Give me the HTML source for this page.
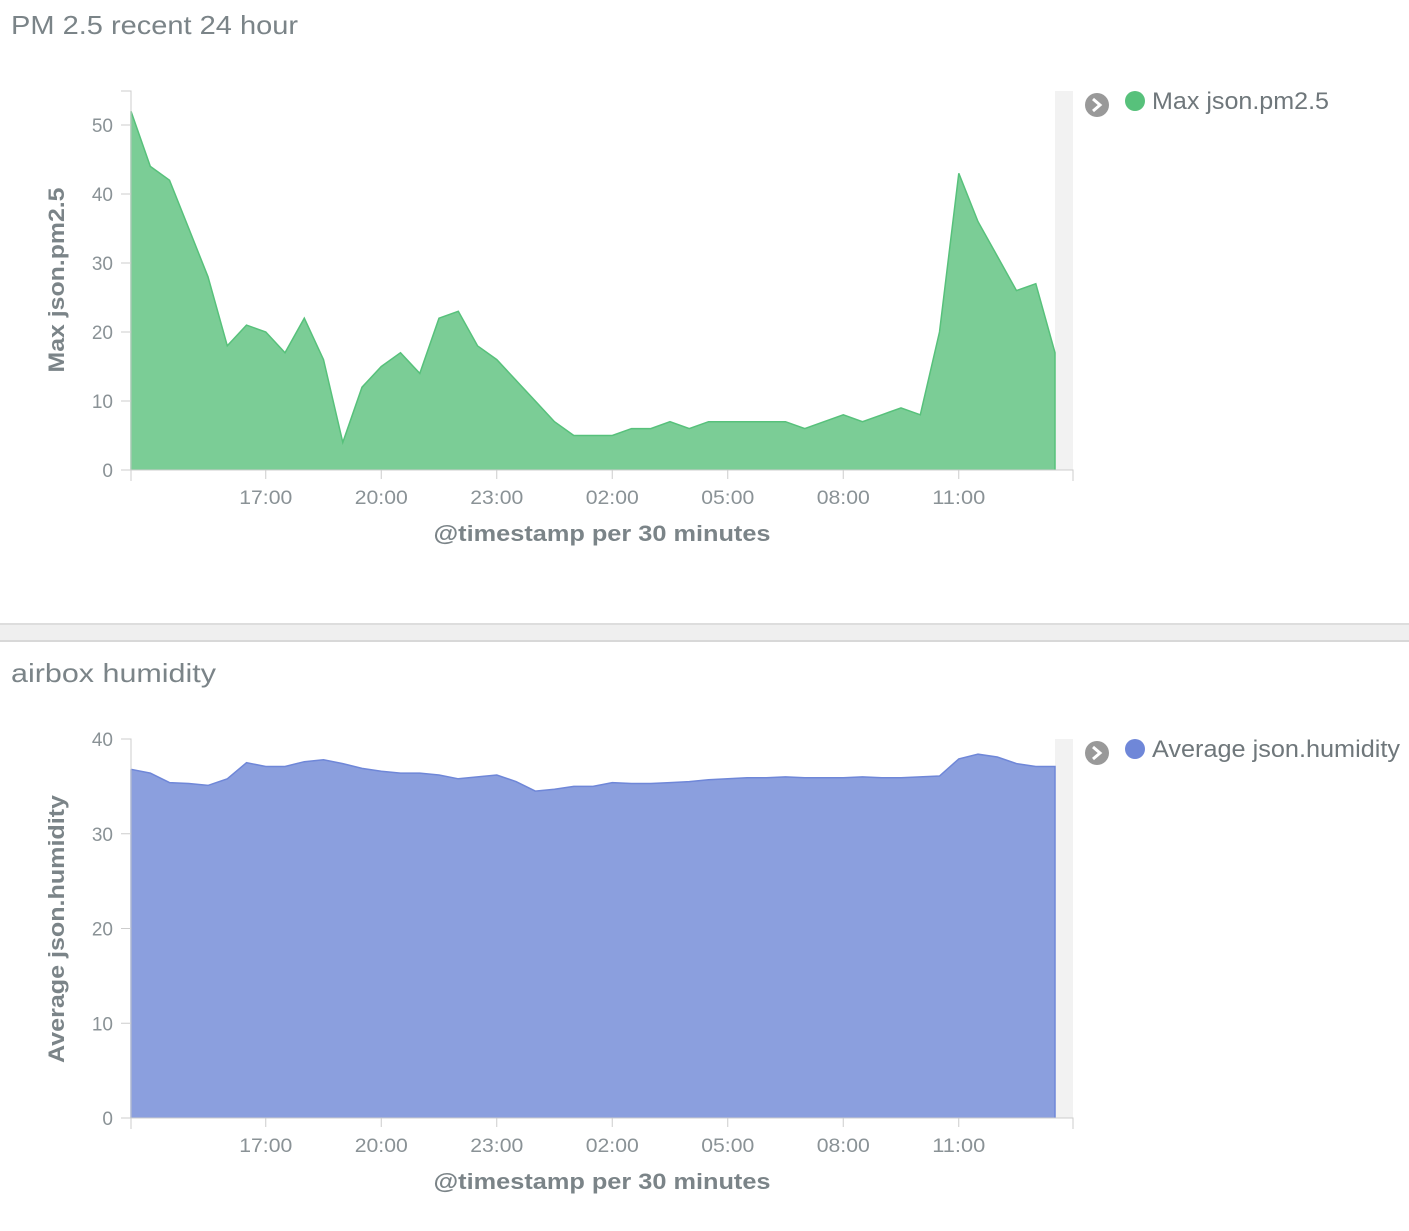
<!DOCTYPE html>
<html><head><meta charset="utf-8"><style>
body{margin:0;width:1409px;height:1231px;background:#fff;overflow:hidden;font-family:"Liberation Sans",sans-serif}
svg{position:absolute;left:0;top:0}
</style></head><body>
<svg width="1409" height="1231" id="svg">
<text x="11" y="34" font-size="26" fill="#7b8488" textLength="287" lengthAdjust="spacingAndGlyphs">PM 2.5 recent 24 hour</text>
<rect x="0" y="623" width="1409" height="19" fill="#efefef"/>
<line x1="0" y1="624" x2="1409" y2="624" stroke="#ddd" stroke-width="2"/>
<line x1="0" y1="641" x2="1409" y2="641" stroke="#d8d8d8" stroke-width="2"/>
<text x="11" y="682" font-size="26" fill="#7b8488" textLength="205" lengthAdjust="spacingAndGlyphs">airbox humidity</text>
<g id="c1"></g>
<g id="c2"></g>
</svg>
<script>
const timeTicks=["17:00","20:00","23:00","02:00","05:00","08:00","11:00"];
const tickIndex=[7,13,19,25,31,37,43];
const pmValues=[52,44,42,35,28,18,21,20,17,22,16,4,12,15,17,14,22,23,18,16,13,10,7,5,5,5,6,6,7,6,7,7,7,7,7,6,7,8,7,8,9,8,20,43,36,31,26,27,17];
const pmTicks=[0,10,20,30,40,50];
const humValues=[36.8,36.4,35.4,35.3,35.1,35.8,37.5,37.1,37.1,37.6,37.8,37.4,36.9,36.6,36.4,36.4,36.2,35.8,36.0,36.2,35.5,34.5,34.7,35.0,35.0,35.4,35.3,35.3,35.4,35.5,35.7,35.8,35.9,35.9,36.0,35.9,35.9,35.9,36.0,35.9,35.9,36.0,36.1,37.9,38.4,38.1,37.4,37.1,37.1];
const humTicks=[0,10,20,30,40];
const NS="http://www.w3.org/2000/svg";
function mk(p,t,a){const e=document.createElementNS(NS,t);for(const k in a)e.setAttribute(k,a[k]);p.appendChild(e);return e;}
function chart(g,vals,yTicks,y0,yTop,vmax,axisTop,fill,stroke,ytitle,ytLen,legend,legLen,ty){
 const x0=131,x1=1055;
 const X=i=>x0+i*(x1-x0)/(vals.length-1);
 const Y=v=>y0-(v/vmax)*(y0-yTop);
 let bg=mk(g,'rect',{x:1055,y:axisTop,width:18,height:y0-axisTop,fill:'#f2f2f2'});
 
 
 let d='M'+x0+','+y0;vals.forEach((v,i)=>d+=' L'+X(i).toFixed(1)+','+Y(v).toFixed(1));d+=' L'+x1+','+y0+' Z';
 let a=mk(g,'path',{d:d,fill:fill,stroke:'none'});
 
 
 let l='';vals.forEach((v,i)=>l+=(i?' L':'M')+X(i).toFixed(1)+','+Y(v).toFixed(1));
 let ln=mk(g,'path',{d:l+' L'+x1+','+y0+' M'+x0+','+y0+' L'+x0+','+Y(vals[0]),fill:'none',stroke:stroke,'stroke-width':1.5});
 
 
 mk(g,'path',{d:`M${x0-10},${axisTop} H${x0} V${y0} H1073 V${y0+11} M${x0},${y0} V${y0+11}`,fill:'none',stroke:'#ccc','stroke-width':1});
 yTicks.forEach(v=>{mk(g,'line',{x1:x0-10,x2:x0,y1:Y(v),y2:Y(v),stroke:'#ccc'});
  let t=mk(g,'text',{x:x0-18,y:Y(v)+7,'text-anchor':'end','font-size':19,fill:'#8a9296'});t.textContent=v;
  
  });
 timeTicks.forEach((s,k)=>{const x=X(tickIndex[k]);mk(g,'line',{x1:x,x2:x,y1:y0,y2:y0+9,stroke:'#ccc'});
  let t=mk(g,'text',{x:x,y:y0+34,'text-anchor':'middle','font-size':19,fill:'#8a9296',textLength:53,lengthAdjust:'spacingAndGlyphs'});t.textContent=s;
  
  });
 let xt=mk(g,'text',{x:602,y:y0+71,'text-anchor':'middle','font-size':22,'font-weight':'bold',fill:'#7b8488',textLength:337,lengthAdjust:'spacingAndGlyphs'});xt.textContent='@timestamp per 30 minutes';
 
 
 let yt=mk(g,'text',{x:0,y:0,'text-anchor':'middle','font-size':22,'font-weight':'bold',fill:'#7b8488',textLength:ytLen,lengthAdjust:'spacingAndGlyphs',transform:`translate(64,${ty}) rotate(-90)`});yt.textContent=ytitle;
 
 
 const ly=axisTop+14;
 let tg=mk(g,'g',{});
 
 
 mk(tg,'circle',{cx:1097,cy:ly,r:12,fill:'#999'});
 mk(tg,'path',{d:`M${1093},${ly-6} L${1100},${ly} L${1093},${ly+6}`,fill:'none',stroke:'#fff','stroke-width':3});
 let le=mk(g,'g',{});
 
 
 mk(le,'circle',{cx:1135,cy:ly-4,r:10,fill:stroke});
 let lt=mk(le,'text',{x:1152,y:ly+4,'font-size':24,fill:'#6f777b',textLength:legLen,lengthAdjust:'spacingAndGlyphs'});lt.textContent=legend;
}
chart(document.getElementById('c1'),pmValues,pmTicks,470,125,50,91,'#7bcd96','#57c17b','Max json.pm2.5',185,'Max json.pm2.5',177,280);
chart(document.getElementById('c2'),humValues,humTicks,1118,739,40,739,'#8b9fde','#6f87d8','Average json.humidity',268,'Average json.humidity',248,929);
</script>
</body></html>
